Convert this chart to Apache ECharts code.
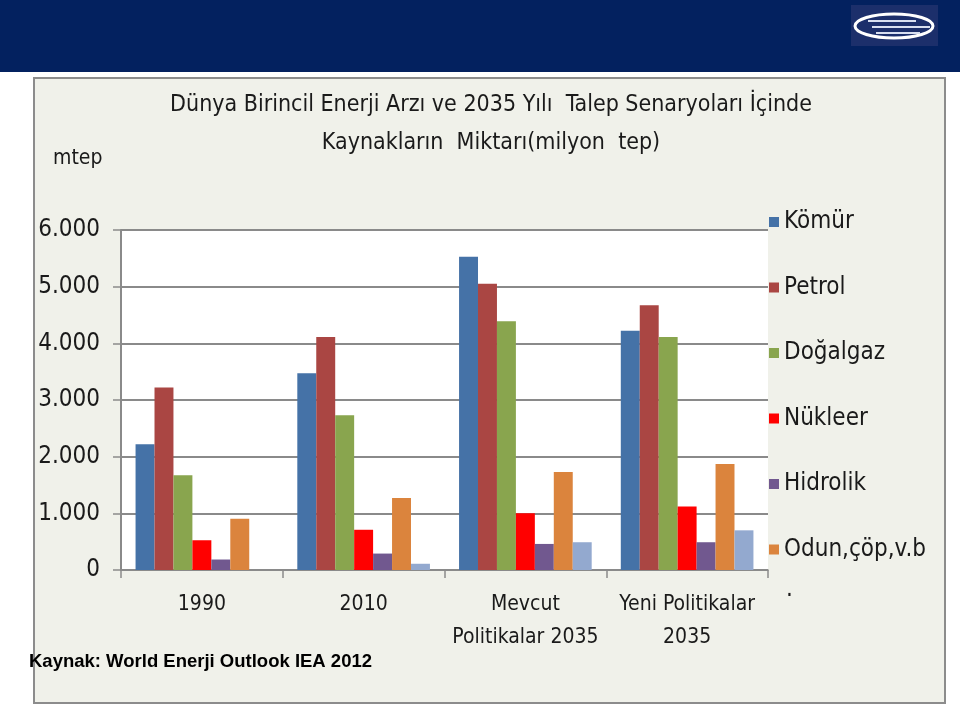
<!DOCTYPE html>
<html>
<head>
<meta charset="utf-8">
<style>
  html, body { margin: 0; padding: 0; background: #ffffff; }
  #chart { width: 960px; height: 705px; }
</style>
<script src="https://cdn.jsdelivr.net/npm/echarts@6/dist/echarts.min.js"></script>
</head>
<body>
<div id="chart"></div>
<script>
// ---- data ----
const categories = ['1990', '2010', 'Mevcut\nPolitikalar 2035', 'Yeni Politikalar\n2035'];
const yTicks = [0, 1000, 2000, 3000, 4000, 5000, 6000];
const komur    = [2220, 3470, 5530, 4220];
const petrol   = [3220, 4110, 5050, 4670];
const dogalgaz = [1670, 2730, 4390, 4110];
const nukleer  = [525, 710, 1000, 1120];
const hidrolik = [185, 290, 460, 490];
const odun     = [905, 1270, 1730, 1870];
const diger    = [0, 110, 490, 700];
const seriesNames = ['Kömür', 'Petrol', 'Doğalgaz', 'Nükleer', 'Hidrolik', 'Odun,çöp,v.b', 'Diğer'];
const seriesData = [komur, petrol, dogalgaz, nukleer, hidrolik, odun, diger];
const colors = ['#4572a7', '#aa4643', '#89a54e', '#ff0000', '#71588f', '#db843d', '#93a9cf'];

const NARROW = "'Liberation Sans Narrow', 'DejaVu Sans Condensed', 'DejaVu Sans', sans-serif";
const chart = echarts.init(document.getElementById('chart'), null, { renderer: 'canvas' });

const option = {
  backgroundColor: '#ffffff',
  animation: false,
  title: {
    text: 'Dünya Birincil Enerji Arzı ve 2035 Yılı  Talep Senaryoları İçinde\nKaynakların  Miktarı(milyon  tep)',
    left: 486,
    top: 81,
    textAlign: 'center',
    textStyle: { fontFamily: NARROW, fontSize: 23, fontWeight: 'normal', color: '#1a1a1a', lineHeight: 38 }
  },
  legend: {
    data: seriesNames.slice(0, 6),
    orient: 'vertical',
    left: 764,
    top: 202,
    itemWidth: 10,
    itemHeight: 10,
    itemGap: 35.5,
    icon: 'rect',
    textStyle: { fontFamily: NARROW, fontSize: 24, color: '#1a1a1a', lineHeight: 30 }
  },
  grid: {
    left: 121, right: 192, top: 230, bottom: 135,
    show: true, backgroundColor: '#ffffff', borderWidth: 0
  },
  xAxis: {
    type: 'category',
    data: categories,
    axisLine: { lineStyle: { color: '#8a8a8a', width: 1.5 } },
    axisTick: { show: true, length: 8, lineStyle: { color: '#8a8a8a', width: 1.5 } },
    axisLabel: { fontFamily: NARROW, fontSize: 21, color: '#1a1a1a', lineHeight: 33, margin: 18, interval: 0 }
  },
  yAxis: {
    type: 'value',
    min: 0, max: 6000, interval: 1000,
    axisLine: { show: true, lineStyle: { color: '#8a8a8a', width: 2 } },
    axisTick: { show: true, length: 8, lineStyle: { color: '#8a8a8a', width: 1.5 } },
    splitLine: { lineStyle: { color: '#8a8a8a', width: 2 } },
    axisLabel: {
      fontFamily: NARROW, fontSize: 24, color: '#1a1a1a', margin: 21,
      formatter: v => yTicks.includes(v) ? (v >= 1000 ? Math.floor(v / 1000) + '.' + String(v % 1000).padStart(3, '0') : String(v)) : ''
    }
  },
  series: seriesData.map((d, i) => ({
    name: seriesNames[i],
    type: 'bar',
    data: d,
    barGap: '0%',
    barCategoryGap: '18%',
    itemStyle: { color: colors[i] },
    z: 3
  })),
  graphic: [
    { type: 'rect', z: -10, silent: true, shape: { x: 0, y: 0, width: 960, height: 72 }, style: { fill: '#03215f' } },
    { type: 'rect', z: -10, silent: true, shape: { x: 851, y: 5, width: 87, height: 41 }, style: { fill: '#1c2f6b' } },
    { type: 'ellipse', z: -9, silent: true, shape: { cx: 894, cy: 26, rx: 39, ry: 12 }, style: { fill: 'none', stroke: '#ffffff', lineWidth: 3 } },
    { type: 'line', z: -9, silent: true, shape: { x1: 868, y1: 21, x2: 916, y2: 21 }, style: { stroke: '#d8dff0', lineWidth: 2 } },
    { type: 'line', z: -9, silent: true, shape: { x1: 872, y1: 27, x2: 930, y2: 27 }, style: { stroke: '#d8dff0', lineWidth: 2 } },
    { type: 'line', z: -9, silent: true, shape: { x1: 876, y1: 33, x2: 920, y2: 33 }, style: { stroke: '#d8dff0', lineWidth: 2 } },
    { type: 'rect', z: -10, silent: true, shape: { x: 34, y: 78, width: 911, height: 625 }, style: { fill: '#f0f1ea', stroke: '#8c8c8c', lineWidth: 2 } },
    { type: 'text', z: 5, silent: true, left: 53, top: 148, style: { text: 'mtep', font: "normal 21px " + NARROW, fill: '#1a1a1a' } },
    { type: 'text', z: 5, silent: true, left: 786, top: 578, style: { text: '.', font: "normal 24px " + NARROW, fill: '#1a1a1a' } },
    { type: 'text', z: 5, silent: true, left: 29, top: 652, style: { text: 'Kaynak: World Enerji Outlook IEA 2012', font: "bold 18.5px 'Liberation Sans', Arial, sans-serif", fill: '#000000' } }
  ]
};
chart.setOption(option);
</script>
</body>
</html>
